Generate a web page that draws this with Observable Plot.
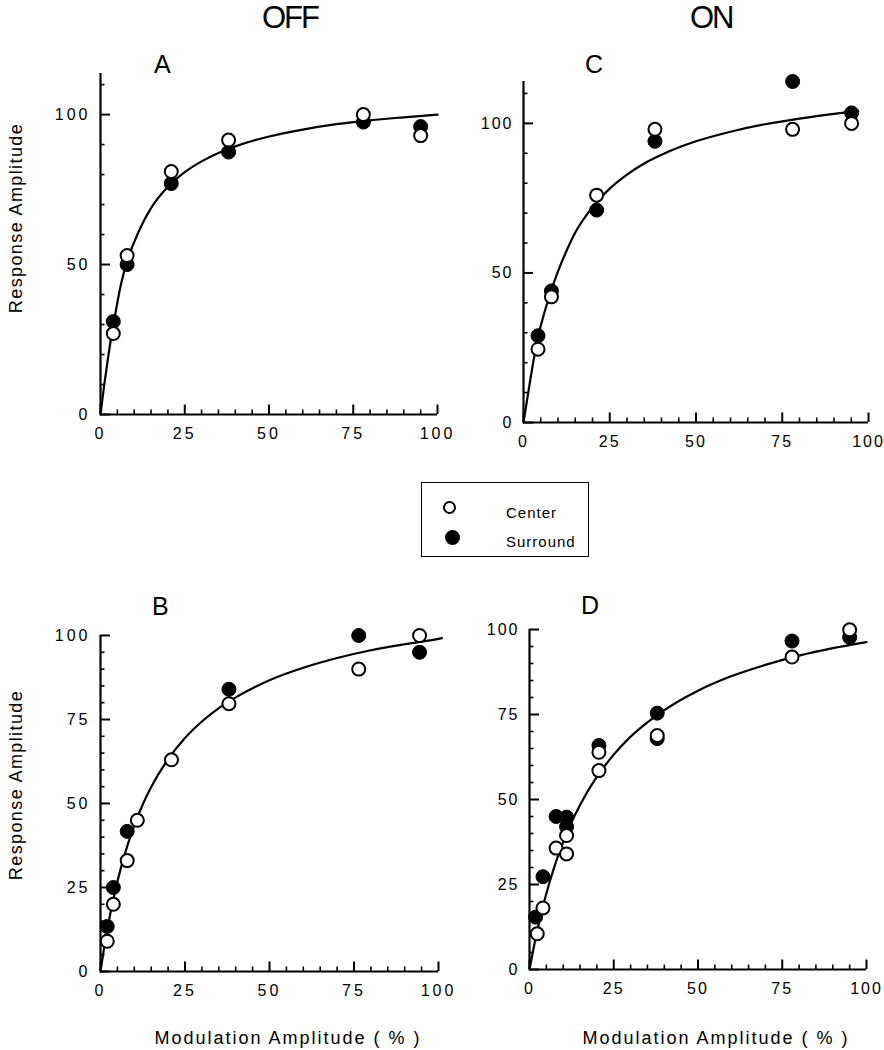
<!DOCTYPE html>
<html>
<head>
<meta charset="utf-8">
<script src="https://cdn.jsdelivr.net/npm/d3@7"></script>
<script src="https://cdn.jsdelivr.net/npm/@observablehq/plot@0.6"></script>
<style>
  html, body { margin: 0; padding: 0; background: #fff; }
  #root { position: relative; width: 884px; height: 1050px; font-family: "Liberation Sans", Arial, sans-serif; color: #000; overflow: hidden; }
  .t { position: absolute; white-space: nowrap; line-height: 1; }
  .title { font-size: 31px; letter-spacing: -2px; }
  .letter { font-size: 25px; }
  .xtitle { font-size: 18px; letter-spacing: 2px; }
  .ytitle { font-size: 18px; letter-spacing: 1.4px; transform: rotate(-90deg); transform-origin: center center; }
  #legend { position: absolute; left: 421px; top: 482px; width: 168px; height: 75px; border: 1.6px solid #000; box-sizing: border-box; }
  #legend .sym { position: absolute; width: 12px; height: 12px; border-radius: 50%; border: 2px solid #000; box-sizing: border-box; }
  #legend .lab { position: absolute; font-size: 15px; letter-spacing: 1px; line-height: 1; }
</style>
</head>
<body>
<div id="root">
  <div class="t title" style="left:262px; top:2px;">OFF</div>
  <div class="t title" style="left:690px; top:2px;">ON</div>
  <div class="t letter" style="left:154px; top:52px;">A</div>
  <div class="t letter" style="left:585px; top:52px;">C</div>
  <div class="t letter" style="left:152px; top:594px;">B</div>
  <div class="t letter" style="left:581px; top:593px;">D</div>
  <div class="t ytitle" id="yt1">Response Amplitude</div>
  <div class="t ytitle" id="yt2">Response Amplitude</div>
  <div class="t xtitle" id="xt1">Modulation Amplitude ( % )</div>
  <div class="t xtitle" id="xt2">Modulation Amplitude ( % )</div>
  <div id="legend">
    <div class="sym" style="left:21px; top:18px; background:#fff; width:13px; height:13px;"></div>
    <div class="lab" style="left:84px; top:22px;">Center</div>
    <div class="sym" style="left:23px; top:47px; background:#000; width:15px; height:15px;"></div>
    <div class="lab" style="left:84px; top:51px;">Surround</div>
  </div>
</div>
<script>
// ---------- data ----------
// Panel A (OFF, top)
const A_x = [3.8, 7.9, 21, 38, 78, 95];
const A_center = [27, 53, 81, 91.5, 100, 93];
const A_surround = [31, 50, 77, 87.5, 97.5, 96];
const A_curveX = [0, 1, 2, 3, 4, 6, 8, 10, 12.5, 15, 20, 25, 30, 35, 40, 50, 60, 70, 80, 90, 100];
const A_curveY = [0, 9, 17, 24.5, 31, 43, 51.5, 57.5, 63.8, 68.8, 75.9, 80.8, 84.4, 87.2, 89.4, 92.7, 95.0, 96.8, 98.1, 99.1, 100];

// Panel C (ON, top)
const C_x = [4.2, 8.1, 21.2, 38.1, 78, 95.1];
const C_center = [24.5, 42, 76, 98, 98, 100];
const C_surround = [29, 44, 71, 94, 114, 103.5];
const C_curveX = [0, 2, 4, 6, 8, 10, 12.5, 15, 20, 25, 30, 35, 40, 50, 60, 70, 80, 90, 97];
const C_curveY = [0, 14.5, 27.5, 36.5, 44, 50.5, 57.5, 63.5, 72, 78.2, 82.9, 86.6, 89.5, 94, 97.2, 99.7, 101.6, 103.2, 104.2];

// Panel B (OFF, bottom)
const B_centerX = [2, 3.8, 7.9, 10.9, 21, 38, 76.4, 94.4];
const B_center = [9, 20, 33, 45, 63, 79.7, 90, 100];
const B_surroundX = [2, 3.8, 7.9, 38, 76.4, 94.4];
const B_surround = [13.4, 25, 41.7, 84, 100, 95];
const B_curveX = [0, 1, 2, 4, 6, 8, 10, 12.5, 15, 20, 25, 30, 35, 40, 50, 60, 70, 80, 90, 100, 101];
const B_curveY = [0, 6.6, 12.5, 22.5, 30.7, 37.6, 43.5, 49.7, 54.9, 63.2, 69.5, 74.4, 78.4, 81.6, 86.7, 90.4, 93.3, 95.6, 97.4, 99, 99.2];

// Panel D (ON, bottom)
const D_centerX = [2.3, 4.0, 7.9, 11, 11, 20.6, 20.6, 37.9, 77.9, 95];
const D_center = [10.5, 18.1, 35.7, 39.4, 34, 63.9, 58.5, 68.8, 91.9, 99.9];
const D_surroundX = [1.8, 4.0, 7.9, 11, 11, 20.6, 37.9, 37.9, 77.9, 95];
const D_surround = [15.4, 27.3, 45, 44.8, 42, 65.9, 75.4, 67.9, 96.6, 97.7];
const D_curveX = [0, 2, 4, 6, 8, 10, 12.5, 15, 20, 25, 30, 35, 40, 50, 60, 70, 80, 90, 100];
const D_curveY = [0, 10.1, 18.6, 25.8, 32.1, 37.5, 43.4, 48.4, 56.7, 63.2, 68.5, 72.7, 76.3, 82, 86.3, 89.6, 92.3, 94.5, 96.3];

// ticks
const xMajor = [0, 25, 50, 75, 100];
const xMinor = [5, 10, 15, 20, 30, 35, 40, 45, 55, 60, 65, 70, 80, 85, 90, 95];
const yMajorTop = [0, 50, 100];
const yMinorTop = [10, 20, 30, 40, 60, 70, 80, 90, 110];
const yMajorBot = [0, 25, 50, 75, 100];
const yMinorBot = [5, 10, 15, 20, 30, 35, 40, 45, 55, 60, 65, 70, 80, 85, 90, 95];

const zip = (xs, ys) => xs.map((x, i) => ({x, y: ys[i]}));

function panel(o) {
  // inward tick lengths, converted from pixels to data units of the perpendicular scale
  const pxX = (o.width - o.ml - o.mr) / 100;            // px per x unit
  const pxY = (o.height - o.mt - o.mb) / o.ydomain[1];  // px per y unit
  const xt = (vals, px) => vals.map(v => ({x: v, y1: 0, y2: px / pxY}));
  const yt = (vals, px) => vals.map(v => ({y: v, x1: 0, x2: px / pxX}));
  const svg = Plot.plot({
    width: o.width, height: o.height,
    marginLeft: o.ml, marginRight: o.mr, marginTop: o.mt, marginBottom: o.mb,
    x: {domain: [0, 100], label: null},
    y: {domain: o.ydomain, label: null},
    style: {fontFamily: "'Liberation Sans', Arial, sans-serif", fontSize: "16px", color: "#000", background: "transparent", overflow: "visible"},
    marks: [
      // tick marks pointing into the plot
      Plot.ruleX(xt(xMinor, 4.5), {x: "x", y1: "y1", y2: "y2", stroke: "#000", strokeWidth: 1.6}),
      Plot.ruleX(xt(xMajor, 9.5), {x: "x", y1: "y1", y2: "y2", stroke: "#000", strokeWidth: 2}),
      Plot.ruleY(yt(o.yMinor, 4.5), {y: "y", x1: "x1", x2: "x2", stroke: "#000", strokeWidth: 1.6}),
      Plot.ruleY(yt(o.yMajor, 10), {y: "y", x1: "x1", x2: "x2", stroke: "#000", strokeWidth: 2}),
      // tick labels
      Plot.axisX(xMajor, {tickSize: 0, tickPadding: 13, label: null, fontSize: 16}),
      Plot.axisY(o.yMajor, {tickSize: 0, tickPadding: 10, label: null, fontSize: 16}),
      // axis lines
      Plot.ruleY([0], {stroke: "#000", strokeWidth: 2.2}),
      Plot.ruleX([0], {stroke: "#000", strokeWidth: 2.2}),
      // fitted curve and data
      Plot.line(zip(o.curveX, o.curveY), {x: "x", y: "y", curve: "monotone-x", stroke: "#000", strokeWidth: 2.2}),
      Plot.dot(zip(o.surroundX, o.surround), {x: "x", y: "y", r: 7, fill: "#000", stroke: "#000", strokeWidth: 1}),
      Plot.dot(zip(o.centerX, o.center), {x: "x", y: "y", r: 6.5, fill: "#fff", stroke: "#000", strokeWidth: 2})
    ]
  });
  svg.style.position = "absolute";
  svg.style.left = o.left + "px";
  svg.style.top = o.top + "px";
  svg.style.letterSpacing = o.ls || "3px";
  return svg;
}

const root = document.getElementById("root");
root.appendChild(panel({left: 0, top: 40, width: 460, height: 420, ml: 100, mr: 23, mt: 33, mb: 46,
  ydomain: [0, 113.7], yMajor: yMajorTop, yMinor: yMinorTop,
  curveX: A_curveX, curveY: A_curveY, centerX: A_x, center: A_center, surroundX: A_x, surround: A_surround}));
root.appendChild(panel({left: 460, top: 40, width: 424, height: 420, ml: 63, mr: 16, mt: 41, mb: 38, ls: "2px",
  ydomain: [0, 114], yMajor: yMajorTop, yMinor: yMinorTop,
  curveX: C_curveX, curveY: C_curveY, centerX: C_x, center: C_center, surroundX: C_x, surround: C_surround}));
root.appendChild(panel({left: 0, top: 580, width: 460, height: 420, ml: 100, mr: 22, mt: 55, mb: 29,
  ydomain: [0, 100], yMajor: yMajorBot, yMinor: yMinorBot,
  curveX: B_curveX, curveY: B_curveY, centerX: B_centerX, center: B_center, surroundX: B_surroundX, surround: B_surround}));
root.appendChild(panel({left: 460, top: 580, width: 424, height: 420, ml: 69, mr: 18, mt: 49, mb: 31, ls: "2px",
  ydomain: [0, 100], yMajor: yMajorBot, yMinor: yMinorBot,
  curveX: D_curveX, curveY: D_curveY, centerX: D_centerX, center: D_center, surroundX: D_surroundX, surround: D_surround}));

// position rotated / centered titles
function center(el, cx, cy) {
  const w = el.offsetWidth, h = el.offsetHeight;
  el.style.left = (cx - w / 2) + "px";
  el.style.top = (cy - h / 2) + "px";
}
center(document.getElementById("yt1"), 16, 218);
center(document.getElementById("yt2"), 16, 785);
center(document.getElementById("xt1"), 288, 1038);
center(document.getElementById("xt2"), 716, 1038);
</script>
</body>
</html>
